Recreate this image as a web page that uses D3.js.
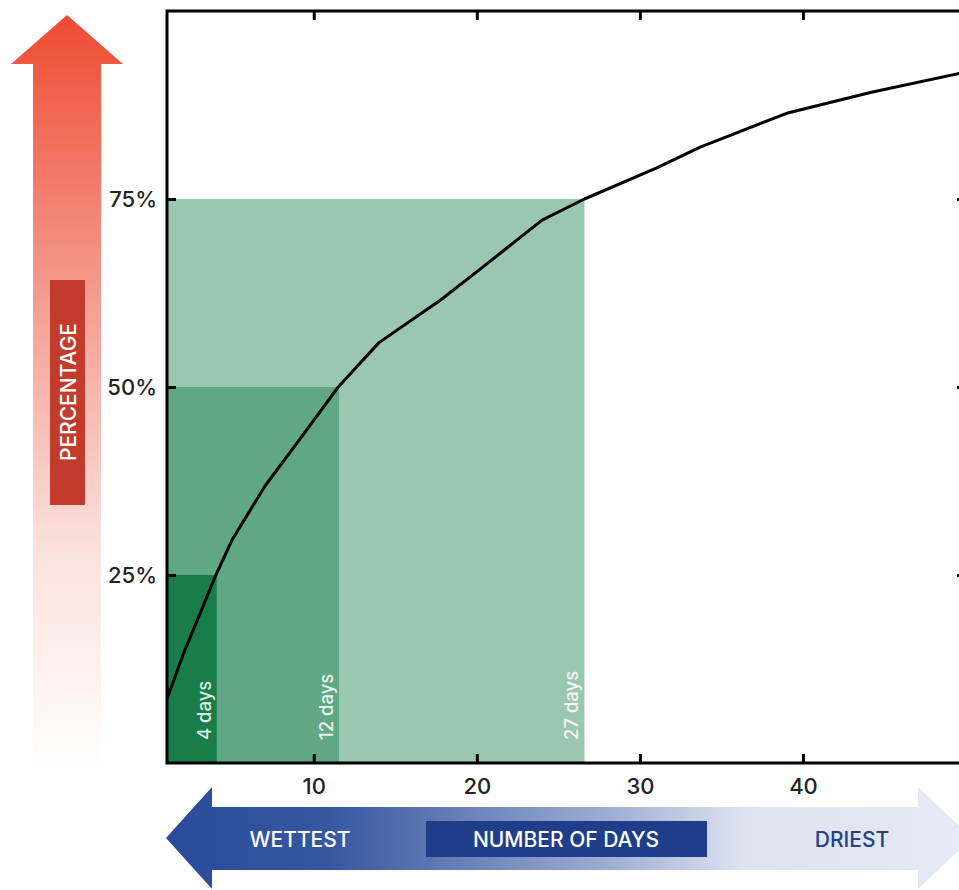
<!DOCTYPE html>
<html>
<head>
<meta charset="utf-8">
<script src="https://cdn.jsdelivr.net/npm/d3@7"></script>
<style>
  html, body { margin: 0; padding: 0; background: #fff; }
  svg { display: block; }
  text { font-family: Inter, "Open Sans", sans-serif; }
</style>
</head>
<body>
<svg id="chart" width="959" height="890"></svg>
<script>
// ---- data ----
const days = [1, 2, 4, 5, 7, 9.4, 11.5, 14, 17.8, 20.4, 24, 26.6, 31, 33.7, 39, 44.2, 50];
const percent = [8.5, 14.5, 25, 29.7, 36.8, 43.8, 50, 55.9, 61.6, 66, 72.2, 75, 79.1, 81.9, 86.4, 89.2, 91.9];
const thresholds = [75, 50, 25];
const thresholdDays = [26.6, 11.55, 4.05];
const thresholdLabels = ["27 days", "12 days", "4 days"];
const thresholdColors = ["#9bc7b1", "#5fa883", "#187d48"];
const xTicks = [10, 20, 30, 40];
const yTicks = [25, 50, 75];
const yTickLabels = ["25%", "50%", "75%"];

const svg = d3.select("#chart");
const defs = svg.append("defs");

const x = d3.scaleLinear().domain([1, 50]).range([167, 966]);
const y = d3.scaleLinear().domain([0, 100]).range([763, 11]);

// ---- red vertical arrow ----
const rg = defs.append("linearGradient").attr("id", "redGrad")
  .attr("x1", 0).attr("y1", 0).attr("x2", 0).attr("y2", 1);
rg.append("stop").attr("offset", "0%").attr("stop-color", "#ef4b33");
rg.append("stop").attr("offset", "35%").attr("stop-color", "#f4978a");
rg.append("stop").attr("offset", "70%").attr("stop-color", "#fbe0db");
rg.append("stop").attr("offset", "100%").attr("stop-color", "#ffffff");
svg.append("path")
  .attr("d", "M67,15 L123,64 L101,64 L101,770 L33,770 L33,64 L11,64 Z")
  .attr("fill", "url(#redGrad)");
svg.append("rect").attr("x", 50).attr("y", 280).attr("width", 35).attr("height", 225)
  .attr("fill", "#c23b2d");
svg.append("text")
  .attr("transform", "translate(76,392) rotate(-90)")
  .attr("text-anchor", "middle")
  .attr("fill", "#ffffff")
  .attr("font-size", 21)
  .attr("font-weight", 500)
  .text("PERCENTAGE");

// ---- blue horizontal arrow ----
const bg = defs.append("linearGradient").attr("id", "blueGrad")
  .attr("gradientUnits", "userSpaceOnUse")
  .attr("x1", 166).attr("y1", 0).attr("x2", 970).attr("y2", 0);
bg.append("stop").attr("offset", "0%").attr("stop-color", "#2a4b9b");
bg.append("stop").attr("offset", "20%").attr("stop-color", "#37569f");
bg.append("stop").attr("offset", "55%").attr("stop-color", "#9eadd3");
bg.append("stop").attr("offset", "72%").attr("stop-color", "#dde3f0");
bg.append("stop").attr("offset", "100%").attr("stop-color", "#e6eaf4");
svg.append("path")
  .attr("d", "M166,838 L212,787 L212,807 L918,807 L918,787 L972,838 L918,889 L918,870 L212,870 L212,889 Z")
  .attr("fill", "url(#blueGrad)");
svg.append("rect").attr("x", 426).attr("y", 821).attr("width", 281).attr("height", 36)
  .attr("fill", "#1f3d8a");
svg.append("text").attr("x", 300).attr("y", 847).attr("text-anchor", "middle")
  .attr("fill", "#ffffff").attr("font-size", 21).attr("font-weight", 500).text("WETTEST");
svg.append("text").attr("x", 566).attr("y", 847).attr("text-anchor", "middle")
  .attr("fill", "#ffffff").attr("font-size", 21).attr("font-weight", 500).text("NUMBER OF DAYS");
svg.append("text").attr("x", 852).attr("y", 847).attr("text-anchor", "middle")
  .attr("fill", "#24418c").attr("font-size", 21).attr("font-weight", 500).text("DRIEST");

// ---- threshold rectangles ----
const th = thresholds.map((t, i) => ({ t, d: thresholdDays[i], label: thresholdLabels[i], color: thresholdColors[i] }));
svg.append("g").selectAll("rect").data(th).join("rect")
  .attr("x", x(1))
  .attr("y", d => y(d.t))
  .attr("width", d => x(d.d) - x(1))
  .attr("height", d => y(0) - y(d.t))
  .attr("fill", d => d.color);

svg.append("g").selectAll("text").data(th).join("text")
  .attr("transform", d => `translate(${x(d.d) - 6},740) rotate(-90)`)
  .attr("text-anchor", "start")
  .attr("fill", "#ffffff")
  .attr("fill-opacity", 0.88)
  .attr("font-size", 18.5)
  .attr("font-weight", 500)
  .text(d => d.label);

// ---- curve ----
const pts = days.map((d, i) => [d, percent[i]]);
svg.append("path")
  .datum(pts)
  .attr("fill", "none")
  .attr("stroke", "#000")
  .attr("stroke-width", 3)
  .attr("stroke-linejoin", "round")
  .attr("d", d3.line().x(d => x(d[0])).y(d => y(d[1])));

// ---- frame and axes ----
function styleAxis(g) {
  g.select(".domain").remove();
  g.selectAll(".tick line").attr("stroke", "#000").attr("stroke-width", 3);
  g.selectAll(".tick text").attr("fill", "#222").attr("font-size", 22)
    .attr("font-weight", 500)
    .attr("font-family", "Inter, 'Open Sans', sans-serif");
}
svg.append("g").attr("transform", `translate(0,${y(0)})`)
  .call(d3.axisBottom(x).tickValues(xTicks).tickSize(-9).tickPadding(15))
  .call(styleAxis);
svg.append("g").attr("transform", `translate(0,${y(100)})`)
  .call(d3.axisTop(x).tickValues(xTicks).tickSize(-9).tickFormat(""))
  .call(styleAxis);
svg.append("g").attr("transform", `translate(${x(1)},0)`)
  .call(d3.axisLeft(y).tickValues(yTicks).tickSize(-9).tickPadding(10)
    .tickFormat((d, i) => yTickLabels[i]))
  .call(styleAxis);
svg.append("g").attr("transform", `translate(${x(50)},0)`)
  .call(d3.axisRight(y).tickValues(yTicks).tickSize(-9).tickFormat(""))
  .call(styleAxis);

svg.append("rect")
  .attr("x", x(1)).attr("y", y(100))
  .attr("width", x(50) - x(1)).attr("height", y(0) - y(100))
  .attr("fill", "none").attr("stroke", "#000").attr("stroke-width", 3);
</script>
</body>
</html>
